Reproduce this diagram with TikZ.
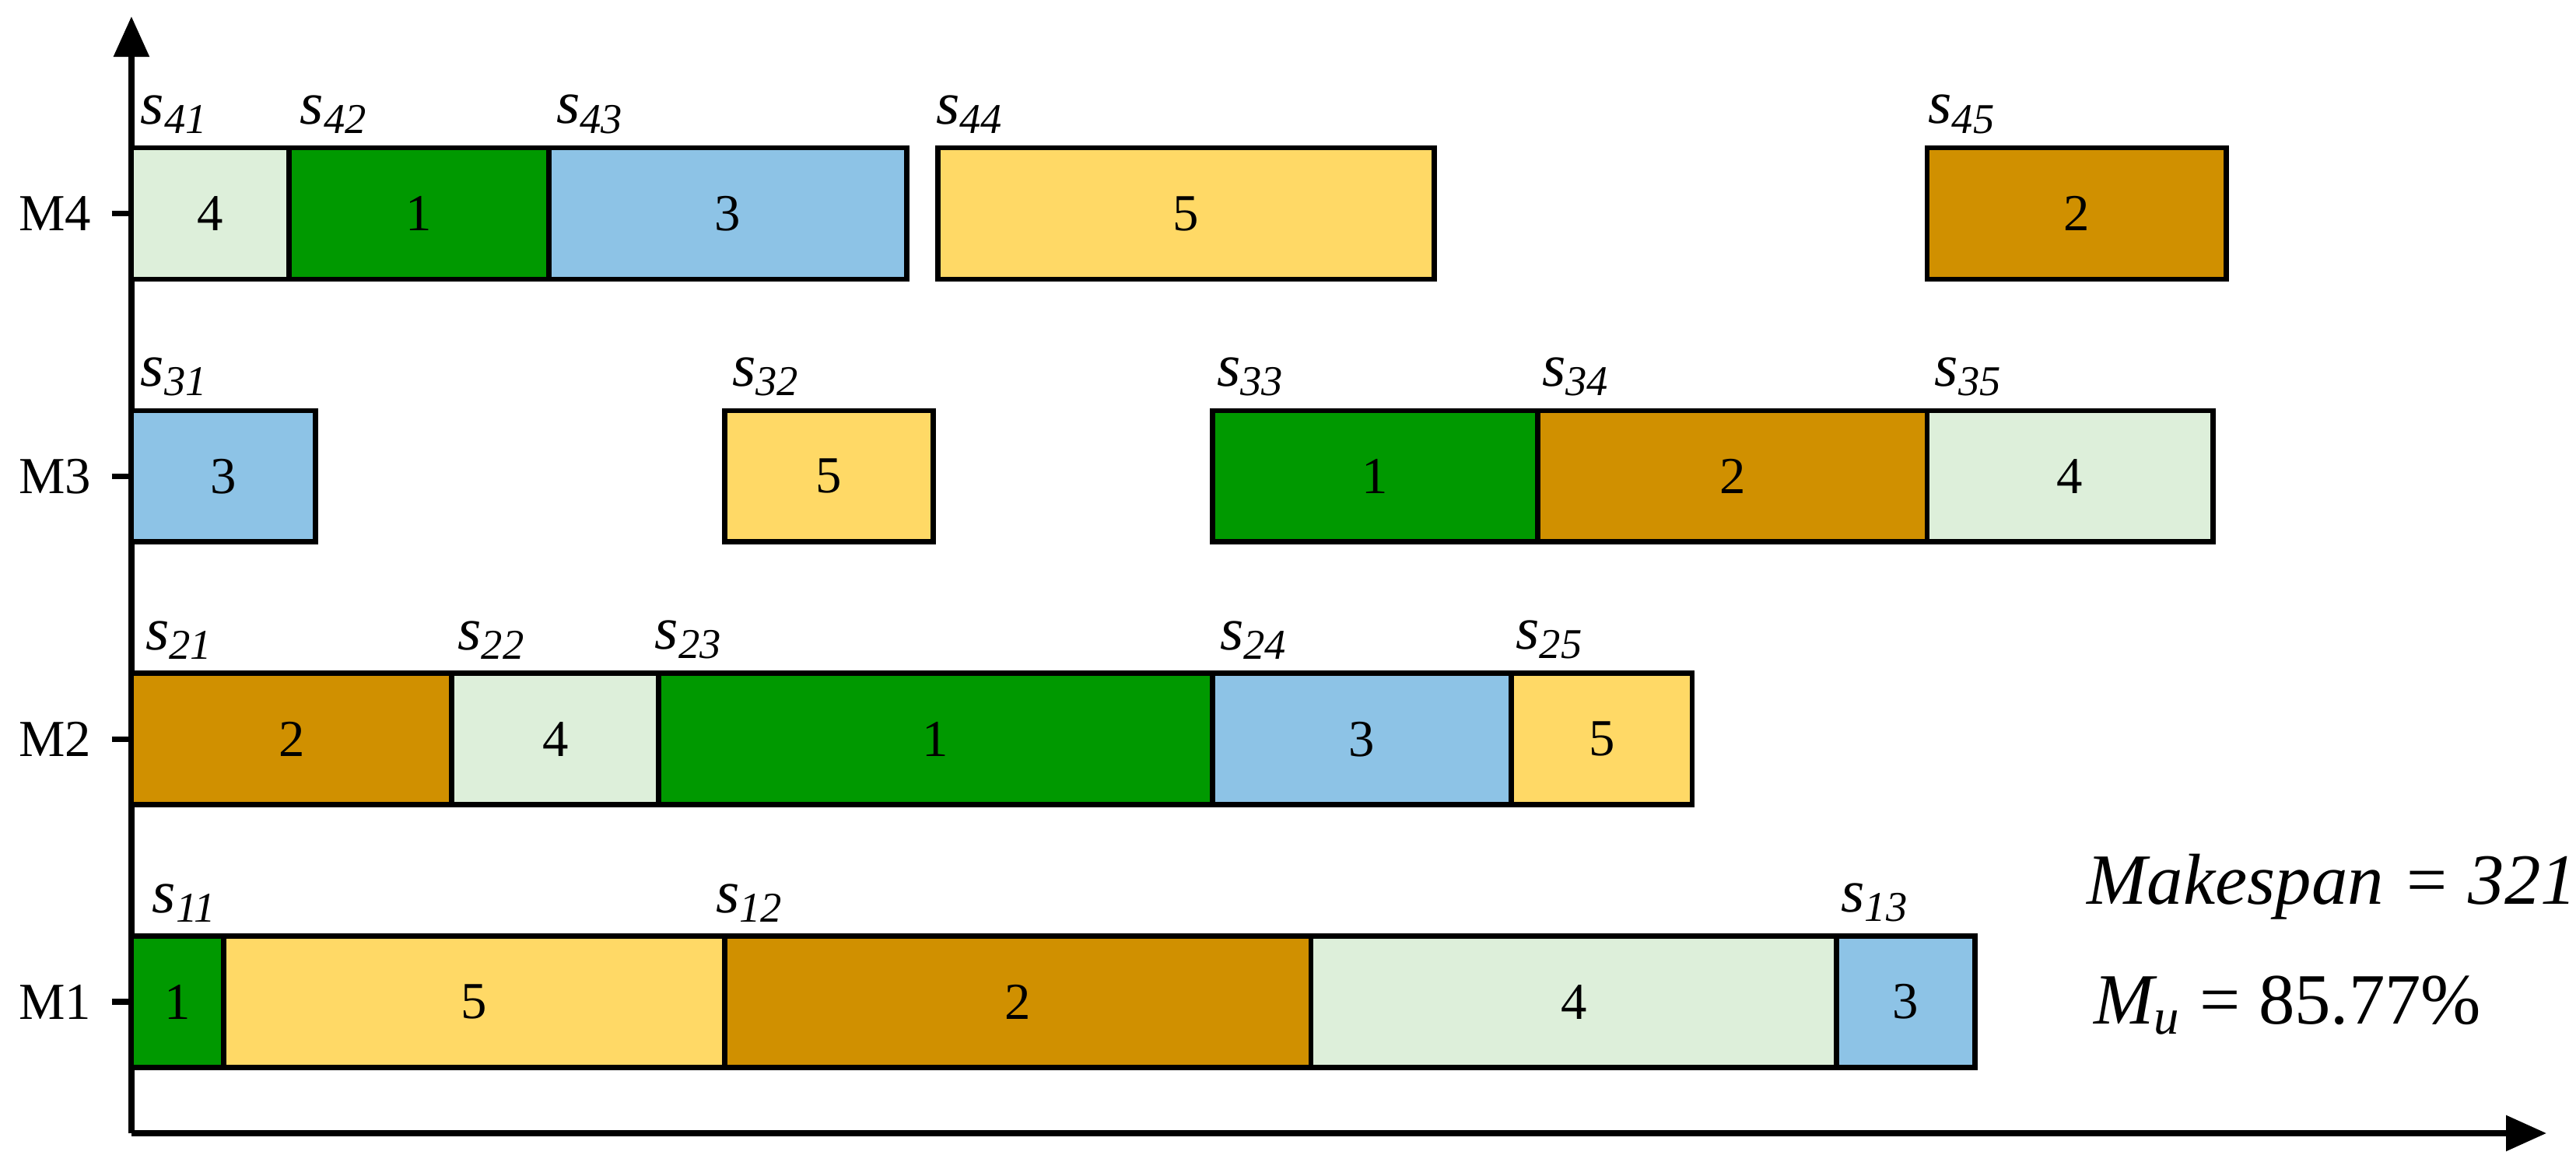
\documentclass[tikz,border=0pt]{standalone}
\usepackage{fontspec}
\setmainfont{Liberation Serif}
\usetikzlibrary{arrows.meta}
\definecolor{cg}{HTML}{009900}
\definecolor{clg}{HTML}{DDEFDA}
\definecolor{cb}{HTML}{8DC3E6}
\definecolor{cy}{HTML}{FFD966}
\definecolor{cbr}{HTML}{D09000}
\tikzset{job/.style={draw=black,line width=0.9pt,font=\fontsize{9}{10}\selectfont},
 slab/.style={anchor=south west,inner sep=0pt,font=\fontsize{10.5}{12}\selectfont\itshape},
 mlab/.style={anchor=east,font=\fontsize{9}{10}\selectfont}}
\newcommand{\jb}[5]{% x1 x2 ytop color label
 \draw[job,fill=#4] (#1/100,{(716-#3)/100}) rectangle (#2/100,{(716-#3-80)/100});
 \node[font=\fontsize{9}{10}\selectfont] at ({(#1+#2)/200},{(716-#3-40)/100}) {#5};}
\newcommand{\slb}[4]{\node[slab] at (#1/100,{(716-#2+8)/100}) {s\textsubscript{#3#4}};}
\begin{document}
\begin{tikzpicture}
\useasboundingbox (0,0) rectangle (15.68,7.16);
\draw[line width=1pt,-{Triangle[length=7pt,width=6pt]}] (0.8,0.26) -- (0.8,7.06);
\draw[line width=1pt,-{Triangle[length=7pt,width=6pt]}] (0.8,0.26) -- (15.5,0.26);
\foreach \y/\m in {90/4,250/3,410/2,570/1}{
 \draw[line width=1pt] (0.68,{(716-\y-40)/100}) -- (0.8,{(716-\y-40)/100});
 \node[mlab] at (0.68,{(716-\y-40)/100}) {M\m};}
% M4
\jb{80}{176}{90}{clg}{4}\jb{176}{334}{90}{cg}{1}\jb{334}{552}{90}{cb}{3}\jb{571}{873}{90}{cy}{5}\jb{1173}{1355}{90}{cbr}{2}
% M3
\jb{80}{192}{250}{cb}{3}\jb{441}{568}{250}{cy}{5}\jb{738}{936}{250}{cg}{1}\jb{936}{1173}{250}{cbr}{2}\jb{1173}{1347}{250}{clg}{4}
% M2
\jb{80}{275}{410}{cbr}{2}\jb{275}{401}{410}{clg}{4}\jb{401}{738}{410}{cg}{1}\jb{738}{920}{410}{cb}{3}\jb{920}{1030}{410}{cy}{5}
% M1
\jb{80}{136}{570}{cg}{1}\jb{136}{441}{570}{cy}{5}\jb{441}{798}{570}{cbr}{2}\jb{798}{1118}{570}{clg}{4}\jb{1118}{1202}{570}{cb}{3}
\slb{85}{90}{4}{1}\slb{182}{90}{4}{2}\slb{338}{90}{4}{3}\slb{569}{90}{4}{4}\slb{1173}{90}{4}{5}
\slb{85}{250}{3}{1}\slb{445}{250}{3}{2}\slb{740}{250}{3}{3}\slb{938}{250}{3}{4}\slb{1177}{250}{3}{5}
\slb{88}{410}{2}{1}\slb{278}{410}{2}{2}\slb{398}{410}{2}{3}\slb{742}{410}{2}{4}\slb{922}{410}{2}{5}
\slb{92}{570}{1}{1}\slb{435}{570}{1}{2}\slb{1120}{570}{1}{3}
\node[anchor=west,font=\fontsize{12.5}{14}\selectfont\itshape] (mk) at (12.58,1.76) {Makespan = 321};
\node[anchor=west,font=\fontsize{12.5}{14}\selectfont] (mu) at (12.62,1.04) {\textit{M\textsubscript{u}} = 85.77\%};
\end{tikzpicture}
\end{document}
